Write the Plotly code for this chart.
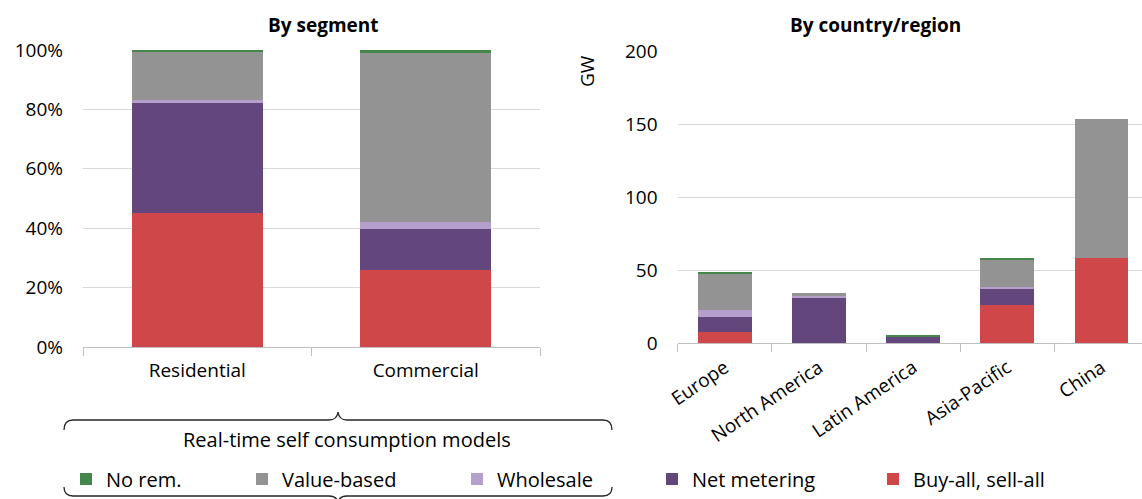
import plotly.graph_objects as go
from plotly.subplots import make_subplots

# ---------------- data ----------------
segments = ["Residential", "Commercial"]
seg_buy_all = [0.450, 0.260]
seg_net_metering = [0.370, 0.137]
seg_wholesale = [0.012, 0.024]
seg_value_based = [0.164, 0.570]
seg_no_rem = [0.004, 0.009]

regions = ["Europe", "North America", "Latin America", "Asia-Pacific", "China"]
reg_buy_all = [7.8, 0.0, 0.0, 26.3, 58.7]
reg_net_metering = [10.5, 31.3, 4.6, 10.9, 0.0]
reg_wholesale = [4.5, 2.0, 0.0, 1.6, 0.0]
reg_value_based = [25.6, 1.0, 0.6, 19.2, 95.1]
reg_no_rem = [0.7, 0.0, 0.8, 0.8, 0.0]

series_names = ["Buy-all, sell-all", "Net metering", "Wholesale", "Value-based", "No rem."]
series_colors = ["#D0474A", "#63477C", "#B4A0CB", "#939393", "#45874B"]
seg_series = [seg_buy_all, seg_net_metering, seg_wholesale, seg_value_based, seg_no_rem]
reg_series = [reg_buy_all, reg_net_metering, reg_wholesale, reg_value_based, reg_no_rem]
legend_ids = ["legend5", "legend4", "legend3", "legend2", "legend"]

# ---------------- layout geometry (pixels) ----------------
W, H = 1142, 499
ML, MR, MT, MB = 83, 0, 50, 152
PW, PH = W - ML - MR, H - MT - MB


def px(x):
    return (x - ML) / PW


def py(y):
    return (H - MB - y) / PH


FONT = "Open Sans"
TXT = "#000000"

fig = make_subplots(rows=1, cols=2)

for name, color, sv, rv, lg in zip(series_names, series_colors, seg_series, reg_series, legend_ids):
    fig.add_trace(go.Bar(x=segments, y=sv, name=name, marker=dict(color=color, line=dict(width=0)),
                         legend=lg, showlegend=True), row=1, col=1)
    fig.add_trace(go.Bar(x=regions, y=rv, name=name, marker=dict(color=color, line=dict(width=0)),
                         legend=lg, showlegend=False), row=1, col=2)

grid = "#D9D9D9"
axl = "#BFBFBF"

fig.update_layout(
    width=W, height=H,
    margin=dict(l=ML, r=MR, t=MT, b=MB),
    barmode="stack",
    bargap=0.427,
    plot_bgcolor="white", paper_bgcolor="white",
    font=dict(family=FONT, size=19, color=TXT),
    xaxis=dict(domain=[0, px(540)], showline=True, linecolor=axl, linewidth=1,
               ticks="outside", tickson="boundaries", ticklen=8, tickcolor=axl,
               ticklabelstandoff=6, tickfont=dict(size=19, color=TXT), showgrid=False),
    yaxis=dict(domain=[0, 1], range=[0, 1], tickformat=".0%", dtick=0.2,
               showgrid=True, gridcolor=grid, gridwidth=1, zeroline=False,
               showline=False, ticklabelstandoff=19, tickfont=dict(size=19, color=TXT)),
    xaxis2=dict(domain=[px(677.6), 1], range=[-0.5, 4.43], showline=True, linecolor=axl, linewidth=1,
                ticks="outside", tickson="boundaries", ticklen=8, tickcolor=axl, tickangle=-34,
                ticklabelstandoff=5, tickfont=dict(size=19, color=TXT), showgrid=False),
    yaxis2=dict(domain=[py(343.3), py(51.7)], range=[0, 200], dtick=50,
                showgrid=True, gridcolor=grid, gridwidth=1, zeroline=False,
                showline=False, ticklabelstandoff=19, tickfont=dict(size=19, color=TXT)),
)

# legends: one item each, positioned along the bottom
legend_pos = {"legend": 66, "legend2": 242, "legend3": 457, "legend4": 652, "legend5": 873}
for lg, x in legend_pos.items():
    fig.update_layout({lg: dict(x=x / W, xref="container", xanchor="left",
                                y=1 - 479 / H, yref="container", yanchor="middle",
                                orientation="h", bgcolor="rgba(0,0,0,0)", borderwidth=0,
                                font=dict(size=20, color=TXT, family=FONT))})

# titles & labels
fig.add_annotation(text="<b>By segment</b>", x=px(323.6), y=py(25), xref="paper", yref="paper",
                   showarrow=False, font=dict(size=19, color=TXT), xanchor="center", yanchor="middle")
fig.add_annotation(text="<b>By country/region</b>", x=px(875), y=py(25), xref="paper", yref="paper",
                   showarrow=False, font=dict(size=19, color=TXT), xanchor="center", yanchor="middle")
fig.add_annotation(text="GW", x=px(587), y=py(71), xref="paper", yref="paper", textangle=-90,
                   showarrow=False, font=dict(size=19, color=TXT), xanchor="center", yanchor="middle")
fig.add_annotation(text="Real-time self consumption models", x=px(347), y=py(439), xref="paper",
                   yref="paper", showarrow=False, font=dict(size=20, color=TXT),
                   xanchor="center", yanchor="middle")


def path(cmds):
    out = []
    for c in cmds:
        letter, pts = c[0], c[1:]
        coords = " ".join(f"{px(pts[i]):.5f},{py(pts[i + 1]):.5f}" for i in range(0, len(pts), 2))
        out.append(f"{letter}{coords}")
    return " ".join(out)


top = path([("M", 64, 430), ("Q", 64, 420, 73, 420), ("L", 329, 420), ("Q", 337, 420, 338, 412),
            ("Q", 339, 420, 347, 420), ("L", 603, 420), ("Q", 612, 420, 612, 430)])
bot = path([("M", 64, 487), ("Q", 64, 496, 73, 496), ("L", 329, 496), ("Q", 337, 496, 338, 503),
            ("Q", 339, 496, 347, 496), ("L", 603, 496), ("Q", 612, 496, 612, 487)])
for p in (top, bot):
    fig.add_shape(type="path", path=p, xref="paper", yref="paper",
                  line=dict(color="#262626", width=1.3))

fig.write_html("out.html", config={"displayModeBar": False},
               post_script="document.body.style.margin='0';document.body.style.overflow='hidden';")
